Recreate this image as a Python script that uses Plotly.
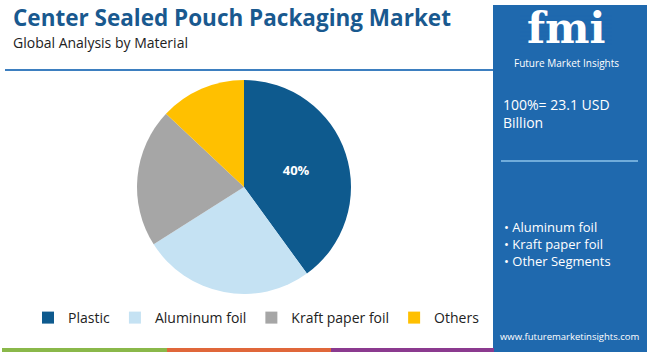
import plotly.graph_objects as go

categories = ["Plastic", "Aluminum foil", "Kraft paper foil", "Others"]
shares = [40, 26, 21, 13]
slice_labels = ["40%", "", "", ""]
colors = ["#0e5a8e", "#c5e2f3", "#a6a6a6", "#ffc000"]

title = "Center Sealed Pouch Packaging Market"
subtitle = "Global Analysis by Material"
market_text = "100%= 23.1 USD<br>Billion"
other_segments = ["Aluminum foil", "Kraft paper foil", "Other Segments"]
url = "www.futuremarketinsights.com"

W, H = 650, 352
PANEL = "#1f69ae"
FONT = "Open Sans"

def px(x):
    return x / W

def py(y):
    return 1 - y / H

fig = go.Figure(go.Pie(
    labels=categories,
    values=shares,
    text=slice_labels,
    texttemplate="%{text}",
    textposition="inside",
    insidetextfont=dict(color="white", size=13, family=FONT, weight="bold"),
    marker=dict(colors=colors, line=dict(width=0)),
    sort=False,
    direction="clockwise",
    rotation=0,
    hole=0,
    domain=dict(x=[px(137), px(351)], y=[py(294), py(80)]),
    showlegend=True,
))

shapes = [
    # header rule
    dict(type="line", xref="paper", yref="paper", x0=px(5), x1=px(493), y0=py(70), y1=py(70),
         line=dict(color="#3d7fc0", width=2)),
    # right panel
    dict(type="rect", xref="paper", yref="paper", x0=px(493), x1=px(647), y0=py(352), y1=py(5),
         fillcolor=PANEL, line=dict(width=0), layer="below"),
    # panel separator
    dict(type="line", xref="paper", yref="paper", x0=px(501), x1=px(638), y0=py(161), y1=py(161),
         line=dict(color="#8cc3ea", width=1.5)),
    # bottom colour bars
    dict(type="rect", xref="paper", yref="paper", x0=px(2), x1=px(167), y0=py(352), y1=py(348),
         fillcolor="#8ab84a", line=dict(width=0)),
    dict(type="rect", xref="paper", yref="paper", x0=px(167), x1=px(331), y0=py(352), y1=py(348),
         fillcolor="#e0673a", line=dict(width=0)),
    dict(type="rect", xref="paper", yref="paper", x0=px(331), x1=px(494), y0=py(352), y1=py(348),
         fillcolor="#8b3a8f", line=dict(width=0)),
]

annotations = [
    dict(text="<b>" + title + "</b>", x=px(11), y=py(17), xref="paper", yref="paper",
         xanchor="left", yanchor="middle", showarrow=False,
         font=dict(family=FONT, size=22.5, color="#19598f")),
    dict(text=subtitle, x=px(11), y=py(42), xref="paper", yref="paper",
         xanchor="left", yanchor="middle", showarrow=False,
         font=dict(family=FONT, size=14, color="#222222")),
    # logo
    dict(text="<b>fmi</b>", x=px(566), y=py(28), xref="paper", yref="paper",
         xanchor="center", yanchor="middle", showarrow=False,
         font=dict(family="DejaVu Serif", size=42, color="white")),
    dict(text="Future Market Insights", x=px(566), y=py(63), xref="paper", yref="paper",
         xanchor="center", yanchor="middle", showarrow=False,
         font=dict(family=FONT, size=10, color="white")),
    dict(text=market_text, x=px(501), y=py(113), xref="paper", yref="paper",
         xanchor="left", yanchor="middle", align="left", showarrow=False,
         font=dict(family=FONT, size=14, color="white")),
    dict(text="<br>".join("• " + s for s in other_segments), x=px(502), y=py(244),
         xref="paper", yref="paper", xanchor="left", yanchor="middle", align="left",
         showarrow=False, font=dict(family=FONT, size=13, color="white")),
    dict(text=url, x=px(570), y=py(336), xref="paper", yref="paper",
         xanchor="center", yanchor="middle", showarrow=False,
         font=dict(family=FONT, size=9.5, color="white")),
]

# stripes over the logo letters
for yy in range(16, 46, 4):
    shapes.append(dict(type="line", xref="paper", yref="paper", x0=px(520), x1=px(612),
                       y0=py(yy), y1=py(yy), line=dict(color=PANEL, width=1)))

fig.update_layout(
    width=W, height=H,
    margin=dict(l=0, r=0, t=0, b=0),
    paper_bgcolor="white",
    plot_bgcolor="white",
    shapes=shapes,
    annotations=annotations,
    legend=dict(orientation="h", x=px(28), y=py(318), xanchor="left", yanchor="middle",
                font=dict(family=FONT, size=14, color="#222222"),
                itemwidth=30, traceorder="normal", bgcolor="rgba(0,0,0,0)"),
)

fig.write_html("out.html")
